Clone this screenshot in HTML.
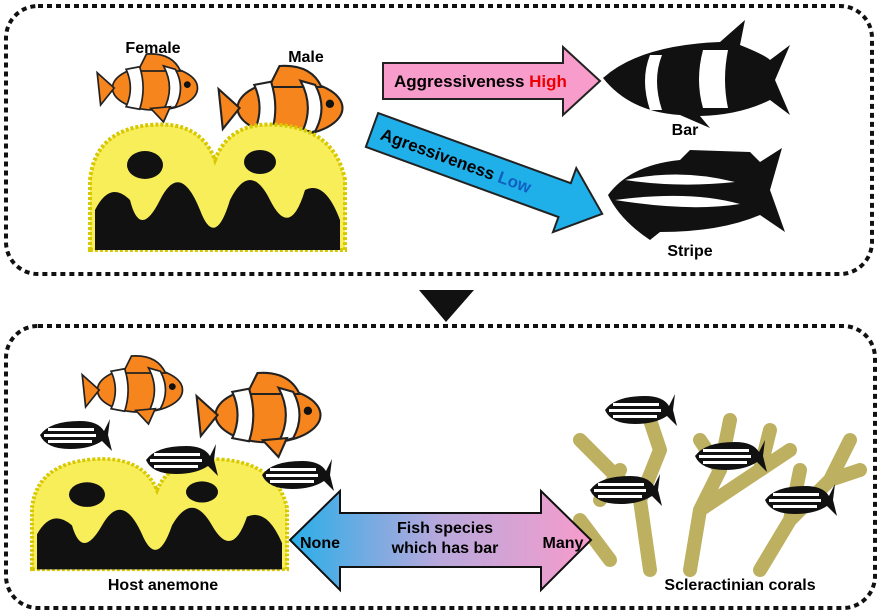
<!DOCTYPE html>
<html><head><meta charset="utf-8"><style>
body{margin:0;background:#fff}
svg{display:block}
text{font-family:"Liberation Sans",sans-serif;font-weight:bold}
</style></head><body>
<svg width="883" height="615" viewBox="0 0 883 615" xmlns="http://www.w3.org/2000/svg">
<defs>
<linearGradient id="g" x1="0" x2="1"><stop offset="0" stop-color="#29aee8"/><stop offset="0.5" stop-color="#b9a8dc"/><stop offset="1" stop-color="#f79ccb"/></linearGradient>
<g id="clown">
<ellipse cx="0" cy="0" rx="50" ry="26" fill="#f7851e" stroke="#222" stroke-width="2"/>
<path d="M-48,0 L-68,-18 L-64,20 Z" fill="#f7851e" stroke="#222" stroke-width="2"/>
<path d="M-10,-40 Q20,-42 30,-20 L-20,-20Z" fill="#f7851e" stroke="#222" stroke-width="2"/>
<path d="M-34,-22 Q-24,0 -34,22 L-18,25 Q-10,0 -18,-25Z" fill="#fff" stroke="#222" stroke-width="2"/>
<path d="M10,-26 Q24,0 10,26 L24,22 Q36,0 24,-22Z" fill="#fff" stroke="#222" stroke-width="2"/>
<circle cx="38" cy="-4" r="4" fill="#111"/>
<path d="M-5,24 L10,40 L18,22Z" fill="#f7851e" stroke="#222" stroke-width="2"/>
</g>
<g id="sf">
<path d="M-30,0 Q-20,-14 10,-14 Q28,-14 34,-4 L40,-16 L38,0 L42,16 L32,6 Q20,14 0,14 Q-24,14 -30,0Z" fill="#111"/>
<rect x="-22" y="-7" width="46" height="3" fill="#fff"/>
<rect x="-26" y="-1" width="52" height="3" fill="#fff"/>
<rect x="-22" y="5" width="44" height="3" fill="#fff"/>
</g>
<g id="anem">
<path d="M0,130 L0,60 Q5,10 60,5 Q110,0 125,40 Q140,0 190,5 Q245,10 255,60 L255,130Z" fill="#f7ee5a" stroke="#d8c800" stroke-width="4" stroke-dasharray="3,2"/>
<path d="M5,130 L5,90 Q20,60 40,80 Q50,120 70,80 Q90,40 110,90 Q125,130 140,80 Q160,40 180,80 Q200,120 215,70 Q235,60 250,100 L250,130Z" fill="#111"/>
<ellipse cx="55" cy="45" rx="18" ry="14" fill="#111"/>
<ellipse cx="170" cy="42" rx="16" ry="12" fill="#111"/>
</g>
</defs>
<rect x="6" y="6" width="866" height="268" rx="32" fill="none" stroke="#111" stroke-width="4" stroke-dasharray="5,4"/>
<rect x="6" y="326" width="869" height="282" rx="32" fill="none" stroke="#111" stroke-width="4" stroke-dasharray="5,4"/>
<path d="M419,290 L474,290 L446,322Z" fill="#111"/>

<text x="153" y="53" font-size="16" text-anchor="middle">Female</text>
<text x="306" y="62" font-size="16" text-anchor="middle">Male</text>
<use href="#clown" transform="translate(155,88) scale(0.85)"/>
<use href="#clown" transform="translate(290,108) scale(1.05)"/>
<use href="#anem" transform="translate(90,120)"/>

<path d="M383,63 L563,63 L563,47 L600,81 L563,115 L563,99 L383,99Z" fill="#f79ccb" stroke="#222" stroke-width="2"/>
<text x="394" y="87" font-size="17">Aggressiveness <tspan fill="#e00">High</tspan></text>
<g transform="translate(372,130) rotate(20)">
<path d="M0,-18 L205,-18 L205,-34 L245,0 L205,34 L205,18 L0,18Z" fill="#1fb0ea" stroke="#222" stroke-width="2"/>
<text x="10" y="6" font-size="17">Agressiveness <tspan fill="#1060c0">Low</tspan></text>
</g>

<path d="M603,78 Q640,45 720,42 L745,20 L740,45 Q765,55 770,60 L790,45 L775,80 L790,115 L770,100 Q740,115 700,116 L710,128 L680,115 Q630,112 603,78Z" fill="#111"/>
<path d="M650,55 Q640,80 650,110 L662,110 Q652,80 662,55Z" fill="#fff"/>
<path d="M703,50 Q695,80 703,108 L728,108 Q722,80 728,50Z" fill="#fff"/>
<text x="685" y="135" font-size="16" text-anchor="middle">Bar</text>
<path d="M608,195 Q630,165 680,160 L690,150 L750,152 L760,162 L782,148 L770,190 L785,232 L760,215 Q720,232 660,232 L650,240 Q620,220 608,195Z" fill="#111"/>
<path d="M625,180 Q680,168 735,182 Q680,188 625,180Z" fill="#fff"/>
<path d="M615,200 Q690,190 740,204 Q690,212 615,200Z" fill="#fff"/>
<text x="690" y="256" font-size="16" text-anchor="middle">Stripe</text>

<use href="#clown" transform="translate(140,390) scale(0.85)"/>
<use href="#clown" transform="translate(268,415) scale(1.05)"/>
<use href="#sf" transform="translate(70,435)"/>
<use href="#anem" transform="translate(32,455) scale(1,0.88)"/>
<use href="#sf" transform="translate(176,460)"/>
<use href="#sf" transform="translate(292,475)"/>

<g stroke="#bdb060" stroke-width="14" stroke-linecap="round" stroke-linejoin="round" fill="none">
<path d="M650,570 L640,500 L600,460 M640,500 L660,450 L650,420"/>
<path d="M690,570 L700,510 L720,470 L730,420 M700,510 L760,470 L770,430"/>
<path d="M760,570 L790,520 L830,480 L850,440 M790,520 L800,470 M720,470 L700,440"/>
<path d="M610,560 L580,520 M600,460 L580,440 M830,480 L860,470 M760,470 L790,450 M620,470 L600,500"/>
</g>
<use href="#sf" transform="translate(635,410)"/>
<use href="#sf" transform="translate(725,456)"/>
<use href="#sf" transform="translate(620,490)"/>
<use href="#sf" transform="translate(795,500)"/>

<path d="M290,540 L340,491 L340,513 L541,513 L541,491 L591,540 L541,590 L541,567 L340,567 L340,590Z" fill="url(#g)" stroke="#111" stroke-width="2"/>
<text x="320" y="548" font-size="16" text-anchor="middle">None</text>
<text x="445" y="533" font-size="16" text-anchor="middle">Fish species</text>
<text x="445" y="553" font-size="16" text-anchor="middle">which has bar</text>
<text x="563" y="548" font-size="16" text-anchor="middle">Many</text>
<text x="163" y="590" font-size="16" text-anchor="middle">Host anemone</text>
<text x="740" y="590" font-size="16" text-anchor="middle">Scleractinian corals</text>
</svg>
</body></html>
